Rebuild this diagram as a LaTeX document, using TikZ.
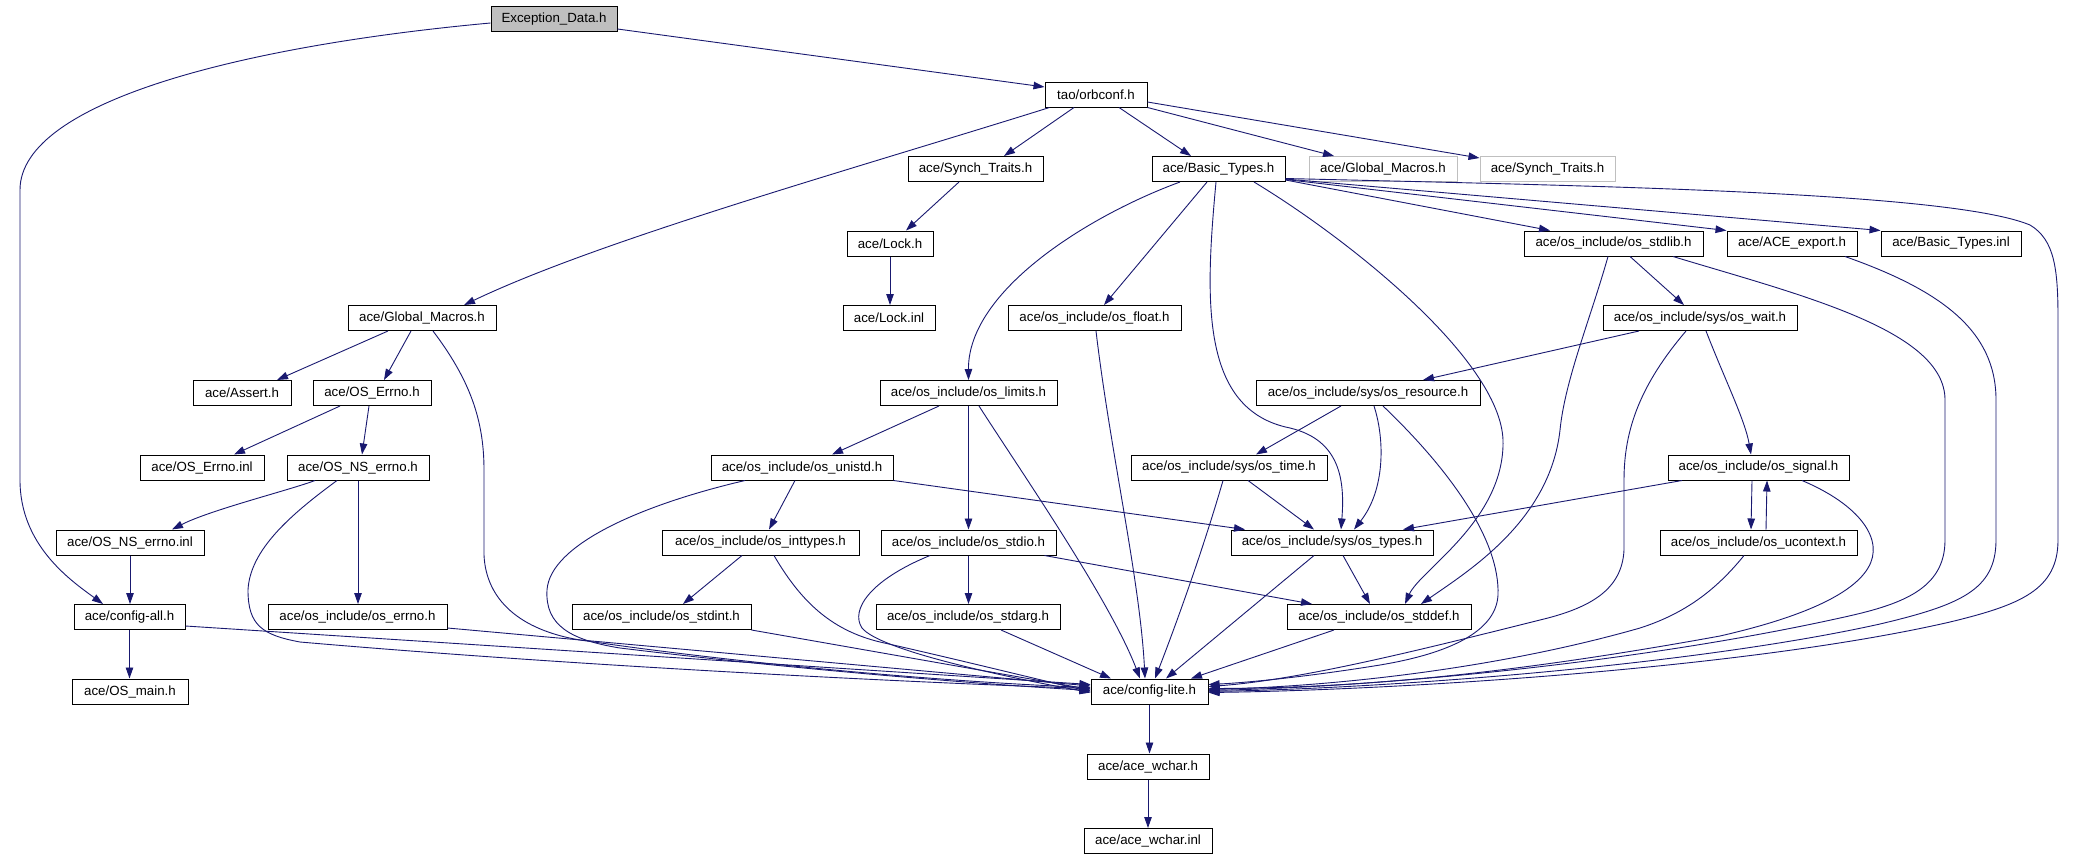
\documentclass[tikz,border=0pt]{standalone}
\usepackage{fontspec}
\setmainfont{Liberation Sans}
\usetikzlibrary{arrows.meta}
\definecolor{edgeblue}{RGB}{25,25,112}
\definecolor{boxgray}{RGB}{191,191,191}
\begin{document}
\begin{tikzpicture}[x=1pt,y=-1pt,
  box/.style={draw=black, line width=1pt, minimum height=25pt, inner sep=0pt, font=\fontsize{13.3}{15}\selectfont, fill=white},
  gbox/.style={box, draw=boxgray},
  e/.style={draw=edgeblue, line width=0.9pt, -{Triangle[length=11pt,width=7.5pt]}},
]
\useasboundingbox[fill=white] (0,0) rectangle (2076,859);
% nodes
\node[box, fill=boxgray, minimum width=126pt] (exc) at (554,19.5) {Exception\_Data.h};
\node[box, minimum width=102pt] (orb) at (1096,94.5) {tao/orbconf.h};
\node[box, minimum width=135pt] (synch) at (975.5,169) {ace/Synch\_Traits.h};
\node[box, minimum width=133pt] (basic) at (1218.5,169) {ace/Basic\_Types.h};
\node[gbox, minimum width=148pt] (gm2) at (1383,169) {ace/Global\_Macros.h};
\node[gbox, minimum width=135pt] (st2) at (1547.5,169) {ace/Synch\_Traits.h};
\node[box, minimum width=86pt] (lock) at (890,243.5) {ace/Lock.h};
\node[box, minimum width=179pt] (stdlib) at (1613.5,243.5) {ace/os\_include/os\_stdlib.h};
\node[box, minimum width=130pt] (export) at (1792,243.5) {ace/ACE\_export.h};
\node[box, minimum width=140pt] (binl) at (1951,243.5) {ace/Basic\_Types.inl};
\node[box, minimum width=148pt] (gm) at (422,318) {ace/Global\_Macros.h};
\node[box, minimum width=92pt] (lockinl) at (889,318) {ace/Lock.inl};
\node[box, minimum width=173pt] (float) at (1094.5,318) {ace/os\_include/os\_float.h};
\node[box, minimum width=194pt] (wait) at (1700,318) {ace/os\_include/sys/os\_wait.h};
\node[box, minimum width=98pt] (assert) at (242,393) {ace/Assert.h};
\node[box, minimum width=118pt] (errno) at (372,393) {ace/OS\_Errno.h};
\node[box, minimum width=177pt] (limits) at (968.5,393) {ace/os\_include/os\_limits.h};
\node[box, minimum width=224pt] (resource) at (1368,393) {ace/os\_include/sys/os\_resource.h};
\node[box, minimum width=124pt] (errnoinl) at (202,467.5) {ace/OS\_Errno.inl};
\node[box, minimum width=142pt] (nserrno) at (358,467.5) {ace/OS\_NS\_errno.h};
\node[box, minimum width=182pt] (unistd) at (802,467.5) {ace/os\_include/os\_unistd.h};
\node[box, minimum width=196pt] (time) at (1229,467.5) {ace/os\_include/sys/os\_time.h};
\node[box, minimum width=181pt] (signal) at (1758.5,467.5) {ace/os\_include/os\_signal.h};
\node[box, minimum width=148pt] (nserrnoinl) at (130,542.5) {ace/OS\_NS\_errno.inl};
\node[box, minimum width=197pt] (inttypes) at (760.5,542.5) {ace/os\_include/os\_inttypes.h};
\node[box, minimum width=175pt] (stdio) at (968.5,542.5) {ace/os\_include/os\_stdio.h};
\node[box, minimum width=202pt] (types) at (1332,542.5) {ace/os\_include/sys/os\_types.h};
\node[box, minimum width=197pt] (ucontext) at (1758.5,542.5) {ace/os\_include/os\_ucontext.h};
\node[box, minimum width=111pt] (configall) at (129.5,617) {ace/config-all.h};
\node[box, minimum width=179pt] (oserrno) at (357.5,617) {ace/os\_include/os\_errno.h};
\node[box, minimum width=179pt] (stdint) at (661.5,617) {ace/os\_include/os\_stdint.h};
\node[box, minimum width=184pt] (stdarg) at (968,617) {ace/os\_include/os\_stdarg.h};
\node[box, minimum width=184pt] (stddef) at (1379,617) {ace/os\_include/os\_stddef.h};
\node[box, minimum width=116pt] (osmain) at (130,691.5) {ace/OS\_main.h};
\node[box, minimum width=117pt] (lite) at (1149.5,691.5) {ace/config-lite.h};
\node[box, minimum width=122pt] (wchar) at (1148,766.5) {ace/ace\_wchar.h};
\node[box, minimum width=128pt] (wcharinl) at (1148,841) {ace/ace\_wchar.inl};
% edges
\draw[e] ([yshift=-9.5pt]exc.east) -- ([yshift=7.5pt]orb.west);
\draw[e] ([yshift=-3.5pt]exc.west) .. controls (250,45) and (20,100) .. (20,190) -- (20,480) .. controls (20,545) and (70,580) .. ([xshift=-26.5pt]configall.north);
\draw[e] ([xshift=5pt]orb.south west) .. controls (850,170) and (600,240) .. ([xshift=42pt]gm.north);
\draw[e] ([xshift=-22pt]orb.south) -- ([xshift=28.5pt]synch.north);
\draw[e] ([xshift=23pt]orb.south) -- ([xshift=-27.5pt]basic.north);
\draw[e] (orb.south east) -- ([xshift=-49pt]gm2.north);
\draw[e] ([yshift=-7.5pt]orb.east) -- ([yshift=-2pt]st2.north west);
\draw[e] ([xshift=-16.5pt]synch.south) -- ([xshift=16pt]lock.north);
\draw[e] (lock.south) -- (lock.south |- lockinl.north);
\draw[e] ([xshift=-38.5pt]basic.south) .. controls (1090,215) and (968,290) .. (limits.north);
\draw[e] ([xshift=-11.5pt]basic.south) -- ([xshift=9.5pt]float.north);
\draw[e] ([xshift=-2.5pt]basic.south) .. controls (1205,300) and (1200,410) .. (1290,428) .. controls (1340,440) and (1345,480) .. ([xshift=9pt]types.north);
\draw[e] ([xshift=35.5pt]basic.south) .. controls (1350,240) and (1500,360) .. (1503,440) .. controls (1505,520) and (1420,570) .. ([xshift=26pt]stddef.north);
\draw[e] ([yshift=2pt]basic.south east) -- ([xshift=-63.5pt]stdlib.north);
\draw[e] ([yshift=2.5pt]basic.south east) -- (export.north west);
\draw[e] ([yshift=3pt]basic.south east) -- (binl.north west);
\draw[e] ([yshift=3.5pt]basic.south east) .. controls (1600,186) and (1950,192) .. (2030,225) .. controls (2055,240) and (2058,270) .. (2058,320) -- (2058,540) .. controls (2058,590) and (2020,605) .. (1950,622) .. controls (1750,668) and (1400,690) .. ([yshift=-1pt]lite.east);
\draw[e] ([xshift=-34pt]gm.south) -- ([xshift=35pt]assert.north);
\draw[e] ([xshift=-11pt]gm.south) -- ([xshift=12pt]errno.north);
\draw[e] ([xshift=11pt]gm.south) .. controls (470,380) and (484,420) .. (484,470) -- (484,555) .. controls (486,600) and (520,630) .. (580,640) .. controls (750,665) and (950,682) .. ([yshift=4pt]lite.west);
\draw[e] ([xshift=-32pt]errno.south) -- ([xshift=32pt]errnoinl.north);
\draw[e] ([xshift=-3pt]errno.south) -- ([xshift=4pt]nserrno.north);
\draw[e] ([xshift=-43pt]nserrno.south) .. controls (290,490) and (210,510) .. ([xshift=42pt]nserrnoinl.north);
\draw[e] (nserrno.south) -- (nserrno.south |- oserrno.north);
\draw[e] ([xshift=-21pt]nserrno.south) .. controls (290,515) and (250,550) .. (248,590) .. controls (248,625) and (262,635) .. (300,642) .. controls (600,668) and (950,684) .. ([yshift=3pt]lite.west);
\draw[e] (nserrnoinl.south) -- (nserrnoinl.south |- configall.north);
\draw[e] (configall.south) -- (configall.south |- osmain.north);
\draw[e] ([yshift=-9pt]configall.east) -- ([yshift=7pt]lite.west);
\draw[e] ([yshift=-11pt]oserrno.east) -- ([yshift=5.5pt]lite.west);
\draw[e] (stdint.south east) -- ([yshift=2pt]lite.west);
\draw[e] ([xshift=-57pt]unistd.south) .. controls (640,505) and (550,545) .. (547,590) .. controls (545,625) and (570,640) .. (620,648) .. controls (800,670) and (980,684) .. ([yshift=1pt]lite.west);
\draw[e] ([xshift=-18.5pt]inttypes.south) -- ([xshift=21.5pt]stdint.north);
\draw[e] ([xshift=13.5pt]inttypes.south) .. controls (800,600) and (830,630) .. (880,642) .. controls (960,660) and (1040,680) .. ([yshift=0pt]lite.west);
\draw[e] ([xshift=-29.5pt]limits.south) -- ([xshift=30pt]unistd.north);
\draw[e] (limits.south) -- (limits.south |- stdio.north);
\draw[e] ([xshift=10.5pt]limits.south) .. controls (1020,470) and (1110,600) .. ([xshift=-9.5pt]lite.north);
\draw[e] ([xshift=-7pt]unistd.south) -- ([xshift=8.5pt]inttypes.north);
\draw[e] (unistd.south east) -- ([xshift=-87pt]types.north);
\draw[e] ([xshift=19pt]time.south) -- ([xshift=-18pt]types.north);
\draw[e] ([xshift=-6pt]time.south) .. controls (1200,560) and (1170,640) .. ([xshift=5.5pt]lite.north);
\draw[e] ([xshift=1.5pt]float.south) .. controls (1110,450) and (1140,580) .. ([xshift=-4.5pt]lite.north);
\draw[e] ([xshift=-27pt]resource.south) -- ([xshift=27pt]time.north);
\draw[e] ([xshift=6pt]resource.south) .. controls (1385,440) and (1385,490) .. ([xshift=22pt]types.north);
\draw[e] ([xshift=15pt]resource.south) .. controls (1450,470) and (1500,540) .. (1498,595) .. controls (1496,635) and (1440,655) .. (1380,665) .. controls (1300,678) and (1240,683) .. ([yshift=7pt]lite.east);
\draw[e] (stdio.south) -- (stdio.south |- stdarg.north);
\draw[e] ([xshift=-12pt]stdio.south east) -- ([xshift=-67pt]stddef.north);
\draw[e] ([xshift=-38.5pt]stdio.south) .. controls (870,580) and (850,610) .. (862,628) .. controls (880,650) and (1000,676) .. ([yshift=-1pt]lite.west);
\draw[e] ([xshift=11pt]types.south) -- ([xshift=-9pt]stddef.north);
\draw[e] ([xshift=-18pt]types.south) -- ([xshift=16.5pt]lite.north);
\draw[e] ([xshift=-45pt]stddef.south) -- ([xshift=41.5pt]lite.north);
\draw[e] ([xshift=33pt]stdarg.south) -- ([xshift=-38.5pt]lite.north);
\draw[e] ([xshift=16.5pt]stdlib.south) -- ([xshift=-16pt]wait.north);
\draw[e] ([xshift=-5.5pt]stdlib.south) .. controls (1590,320) and (1565,380) .. (1560,430) .. controls (1550,520) and (1470,570) .. ([xshift=42pt]stddef.north);
\draw[e] ([xshift=59.5pt]stdlib.south) .. controls (1800,295) and (1945,330) .. (1945,400) -- (1945,540) .. controls (1945,590) and (1900,605) .. (1840,618) .. controls (1650,660) and (1400,686) .. ([yshift=1pt]lite.east);
\draw[e] ([xshift=53pt]export.south) .. controls (1940,290) and (1996,330) .. (1996,400) -- (1996,540) .. controls (1996,590) and (1960,605) .. (1880,624) .. controls (1700,664) and (1400,688) .. ([yshift=0pt]lite.east);
\draw[e] ([xshift=-61pt]wait.south) -- ([xshift=55pt]resource.north);
\draw[e] ([xshift=6pt]wait.south) .. controls (1725,380) and (1745,420) .. ([xshift=-7.5pt]signal.north);
\draw[e] ([xshift=-14pt]wait.south) .. controls (1640,385) and (1624,430) .. (1624,480) -- (1624,550) .. controls (1622,590) and (1590,608) .. (1540,620) .. controls (1420,650) and (1300,680) .. ([yshift=5pt]lite.east);
\draw[e] ([xshift=-76.5pt]signal.south) -- ([xshift=71pt]types.north);
\draw[e] ([xshift=-6.5pt]signal.south) -- ([xshift=-7.5pt]ucontext.north);
\draw[e] ([xshift=7.5pt]ucontext.north) -- ([xshift=8.5pt]signal.south);
\draw[e] ([xshift=43.5pt]signal.south) .. controls (1860,505) and (1885,540) .. (1868,568) .. controls (1850,598) and (1790,620) .. (1720,636) .. controls (1500,676) and (1350,688) .. ([yshift=3pt]lite.east);
\draw[e] ([xshift=-14.5pt]ucontext.south) .. controls (1720,585) and (1690,612) .. (1640,628) .. controls (1500,668) and (1340,686) .. ([yshift=2pt]lite.east);
\draw[e] (lite.south) -- (lite.south |- wchar.north);
\draw[e] (wchar.south) -- (wchar.south |- wcharinl.north);
\end{tikzpicture}
\end{document}
